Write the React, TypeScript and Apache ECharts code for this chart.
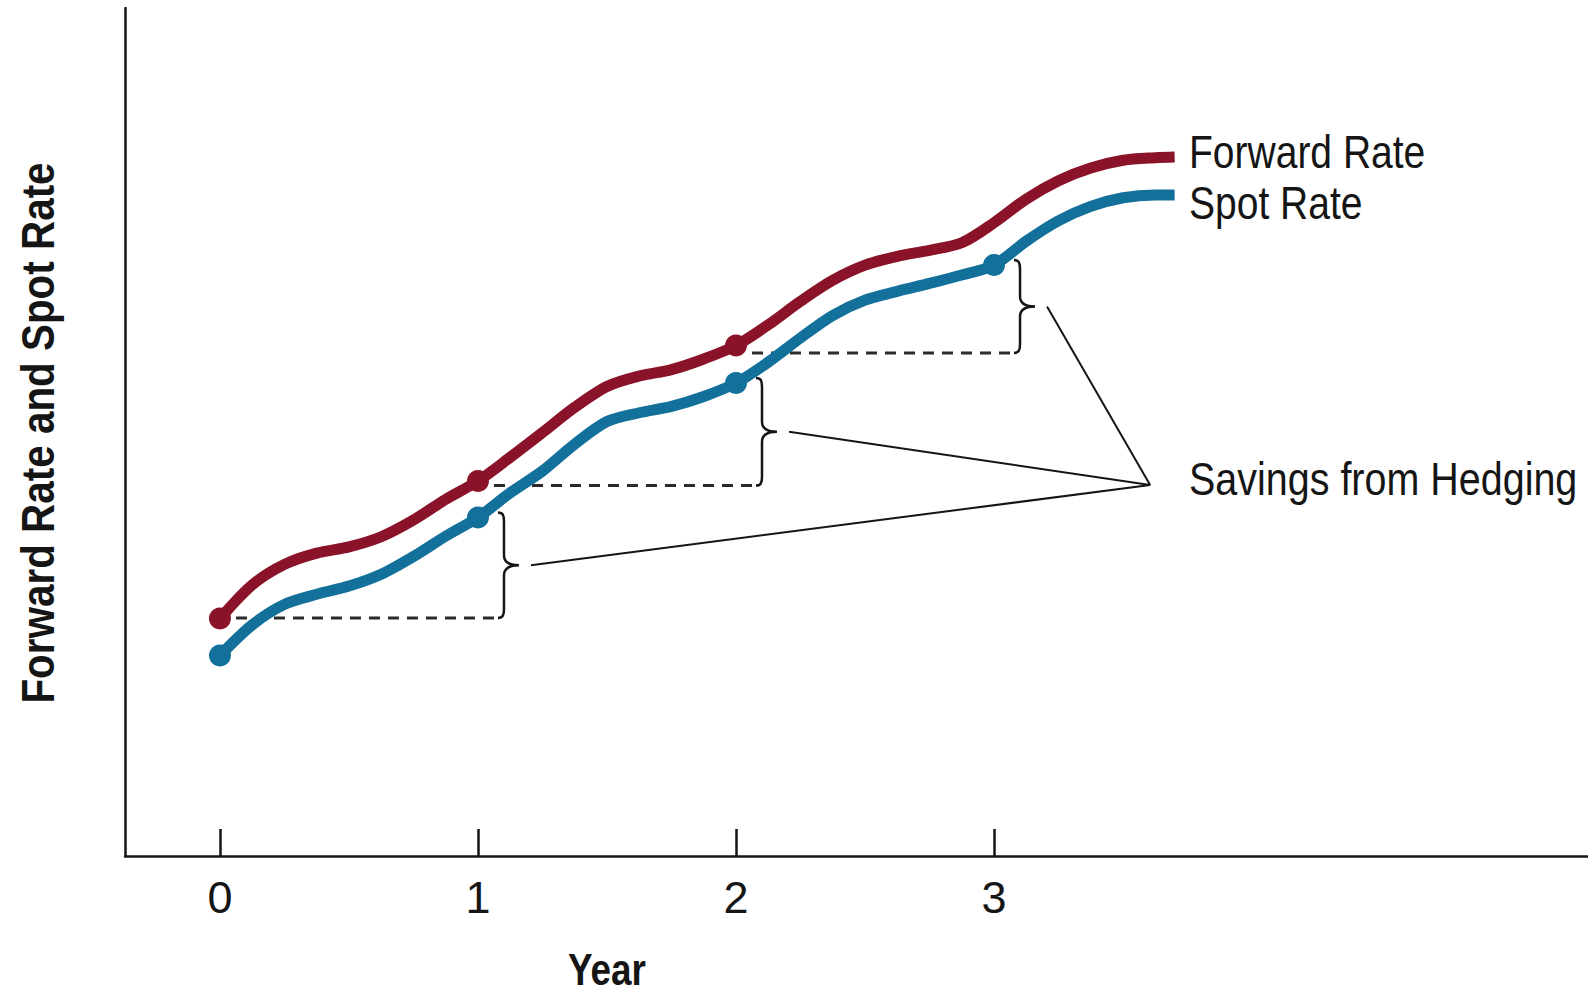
import React, { useEffect, useRef } from "react";
import * as echarts from "echarts";

// Sample positions along the time axis (years)
const sampleYears = [
  0, 0.125, 0.25, 0.375, 0.5, 0.625, 0.75, 0.875,
  1, 1.125, 1.25, 1.375, 1.5, 1.625, 1.75, 1.875,
  2, 2.125, 2.25, 2.375, 2.5, 2.625, 2.75, 2.875,
  3, 3.125, 3.25, 3.375, 3.5, 3.625, 3.7,
];

// Forward rate path
const forwardRate = [
  28.0, 31.97, 34.39, 35.72, 36.45, 37.65, 39.62, 42.05,
  44.22, 47.02, 49.94, 52.91, 55.37, 56.6, 57.36, 58.61,
  60.2, 62.64, 65.41, 67.89, 69.68, 70.72, 71.43, 72.31,
  74.67, 77.47, 79.63, 81.12, 82.04, 82.35, 82.43,
];

// Spot rate path
const spotRate = [
  23.64, 27.25, 29.67, 30.87, 31.83, 33.22, 35.31, 37.72,
  39.92, 42.83, 45.4, 48.58, 51.24, 52.27, 53.02, 54.19,
  55.78, 58.24, 61.1, 63.75, 65.55, 66.59, 67.52, 68.51,
  69.69, 72.51, 74.91, 76.6, 77.62, 77.95, 77.95,
];

// Years that carry a dot on each curve
const forwardDotYears = [0, 1, 2];
const spotDotYears = [0, 1, 2, 3];

// Hedge periods: forward rate locked at the start year, compared with next year's spot
const hedgeStartYears = [0, 1, 2];
const lockedForward = [28.07, 43.69, 59.32];

// Where the "Savings from Hedging" leader lines meet
const calloutPoint = [3.605, 43.75];

const yearTicks = [0, 1, 2, 3];

const FORWARD_COLOR = "#8b1329";
const SPOT_COLOR = "#12709a";
const INK = "#151515";
const SANS = '"Liberation Sans", Arial, sans-serif';

const pointsOf = (values: number[]) => sampleYears.map((x, i) => [x, values[i]]);
const dotsOf = (years: number[], values: number[]) =>
  years.map((y) => [y, values[sampleYears.indexOf(y)]]);

// Condensed-looking text: a regular sans face squeezed horizontally
const narrowText = (
  text: string,
  x: number,
  y: number,
  opts: { bold?: boolean; align?: string; squeeze?: number; rotation?: number; size?: number } = {}
) => ({
  type: "text",
  x,
  y,
  rotation: opts.rotation ?? 0,
  scaleX: opts.squeeze ?? 0.83,
  scaleY: 1,
  style: {
    text,
    fontFamily: SANS,
    fontWeight: opts.bold ? "bold" : "normal",
    fontSize: opts.size ?? 47,
    fill: INK,
    align: opts.align ?? "left",
    verticalAlign: "middle",
  },
});

export default function App() {
  const ref = useRef<HTMLDivElement | null>(null);

  useEffect(() => {
    if (!ref.current) return;
    const chart = echarts.init(ref.current, null, { renderer: "svg" });

    const hedgeData = hedgeStartYears.map((t, i) => [
      t,
      lockedForward[i],
      spotRate[sampleYears.indexOf(t + 1)],
    ]);

    chart.setOption({
      animation: false,
      backgroundColor: "#ffffff",
      grid: { left: 125, right: 0, top: 8, bottom: 141, containLabel: false },
      xAxis: {
        type: "value",
        min: -0.368,
        max: 5.302,
        axisLine: { show: true, onZero: false, lineStyle: { color: INK, width: 2.5 } },
        axisTick: {
          show: true,
          inside: true,
          length: 27,
          customValues: yearTicks,
          lineStyle: { color: INK, width: 2.5 },
        },
        axisLabel: {
          show: true,
          customValues: yearTicks,
          margin: 19,
          fontFamily: SANS,
          fontSize: 45,
          color: INK,
          formatter: (v: number) => String(v),
        },
        splitLine: { show: false },
      },
      yAxis: {
        type: "value",
        min: 0,
        max: 100,
        axisLine: { show: true, onZero: false, lineStyle: { color: INK, width: 2.5 } },
        axisTick: { show: false },
        axisLabel: { show: false },
        splitLine: { show: false },
      },
      series: [
        {
          name: "Savings from Hedging",
          type: "custom",
          z: 1,
          data: hedgeData,
          encode: { x: 0, y: [1, 2] },
          renderItem: (params: any, api: any) => {
            const t = api.value(0);
            const lock = api.value(1);
            const spot = api.value(2);
            const start = api.coord([t, lock]);
            const end = api.coord([t + 1, lock]);
            const top = api.coord([t + 1, spot]);
            const target = api.coord(calloutPoint);
            const sx = end[0] + 26;
            const ty = top[1] - 5;
            const by = start[1];
            const my = (ty + by) / 2;
            const tx = sx + 15;
            const d = [
              `M${sx - 6},${ty}`,
              `C${sx - 1},${ty} ${sx},${ty + 3} ${sx},${ty + 9}`,
              `L${sx},${my - 10}`,
              `C${sx},${my - 3} ${sx + 6},${my} ${tx},${my}`,
              `C${sx + 6},${my} ${sx},${my + 3} ${sx},${my + 10}`,
              `L${sx},${by - 9}`,
              `C${sx},${by - 3} ${sx - 1},${by} ${sx - 6},${by}`,
            ].join(" ");
            return {
              type: "group",
              children: [
                {
                  type: "line",
                  shape: { x1: start[0] + 16, y1: by, x2: sx - 7, y2: by },
                  style: { stroke: "#2a2a2a", lineWidth: 3, lineDash: [11, 8] },
                },
                {
                  type: "path",
                  shape: { pathData: d },
                  style: { fill: "none", stroke: INK, lineWidth: 2.5 },
                },
                {
                  type: "line",
                  shape: { x1: tx + 12, y1: my, x2: target[0], y2: target[1] },
                  style: { stroke: INK, lineWidth: 2 },
                },
              ],
            };
          },
        },
        {
          name: "Forward Rate",
          type: "line",
          z: 3,
          data: pointsOf(forwardRate),
          smooth: 0.3,
          symbol: "none",
          lineStyle: { color: FORWARD_COLOR, width: 11, cap: "butt" },
        },
        {
          name: "Spot Rate",
          type: "line",
          z: 3,
          data: pointsOf(spotRate),
          smooth: 0.3,
          symbol: "none",
          lineStyle: { color: SPOT_COLOR, width: 11, cap: "butt" },
        },
        {
          name: "Forward Rate points",
          type: "scatter",
          z: 4,
          data: dotsOf(forwardDotYears, forwardRate),
          symbolSize: 22,
          itemStyle: { color: FORWARD_COLOR, opacity: 1 },
        },
        {
          name: "Spot Rate points",
          type: "scatter",
          z: 4,
          data: dotsOf(spotDotYears, spotRate),
          symbolSize: 22,
          itemStyle: { color: SPOT_COLOR, opacity: 1 },
        },
      ],
      graphic: [
        narrowText("Forward Rate", 1189, 152),
        narrowText("Spot Rate", 1189, 203),
        narrowText("Savings from Hedging", 1189, 479, { squeeze: 0.84 }),
        narrowText("Year", 607, 970, { bold: true, align: "center", squeeze: 0.82, size: 45 }),
        narrowText("Forward Rate and Spot Rate", 37, 433, {
          bold: true,
          align: "center",
          squeeze: 0.86,
          rotation: Math.PI / 2,
        }),
      ],
    });

    return () => chart.dispose();
  }, []);

  return (
    <div
      ref={ref}
      style={{ position: "fixed", left: 0, top: 0, width: 1588, height: 997, background: "#fff" }}
    />
  );
}
